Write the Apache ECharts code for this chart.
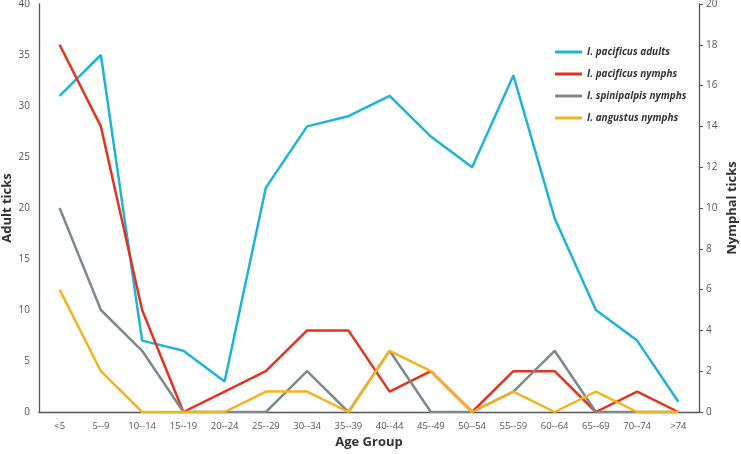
<!DOCTYPE html>
<html>
<head>
<meta charset="utf-8">
<script src="https://cdn.jsdelivr.net/npm/echarts@6/dist/echarts.min.js"></script>
<style>html,body{margin:0;padding:0;background:#fff}#c{width:741px;height:454px}</style>
</head>
<body>
<div id="c"></div>
<script>
const categories = ["<5","5--9","10--14","15--19","20--24","25--29","30--34","35--39","40--44","45--49","50--54","55--59","60--64","65--69","70--74",">74"];
const pacificusAdults = [31,35,7,6,3,22,28,29,31,27,24,33,19,10,7,1];
const pacificusNymphs = [18,14,5,0,1,2,4,4,1,2,0,2,2,0,1,0];
const spinipalpisNymphs = [10,5,3,0,0,0,2,0,3,0,0,1,3,0,0,0];
const angustusNymphs = [6,2,0,0,0,1,1,0,3,2,0,1,0,1,0,0];
const adultTicks = [0,5,10,15,20,25,30,35,40];
const nymphTicks = [0,2,4,6,8,10,12,14,16,18,20];
const seriesNames = ["I. pacificus adults","I. pacificus nymphs","I. spinipalpis nymphs","I. angustus nymphs"];

const colors = ["#1fb3d9","#e5321e","#7c8a88","#f6b21d"];
const font = "'Open Sans', sans-serif";
const chart = echarts.init(document.getElementById('c'));
function mk(name, data, idx, yIdx) {
  return {name, type:'line', data, yAxisIndex:yIdx, showSymbol:false, symbol:'none',
    lineStyle:{width:2.5, color:colors[idx]}, itemStyle:{color:colors[idx]}, animation:false};
}
chart.setOption({
  animation:false,
  textStyle:{fontFamily:font},
  grid:{left:39, right:42, top:4, bottom:42, containLabel:false, outerBoundsMode:'none'},
  legend:{
    orient:'vertical', left:550, top:41, itemGap:10, itemWidth:27, itemHeight:3, icon:'rect',
    data:seriesNames,
    textStyle:{fontFamily:font, fontStyle:'italic', fontWeight:'bold', fontSize:10, lineHeight:12, color:'#333'}
  },
  xAxis:{
    type:'category', data:categories, boundaryGap:true,
    name:'Age Group', nameLocation:'middle', nameGap:24, nameMoveOverlap:false,
    nameTextStyle:{fontFamily:font, fontWeight:'bold', fontSize:13, color:'#333'},
    axisLine:{lineStyle:{color:'#555', width:1.3}},
    axisTick:{show:false},
    axisLabel:{fontSize:9.5, color:'#555', margin:9, interval:0, fontFamily:font}
  },
  yAxis:[
    {type:'value', min:0, max:40, interval:5, position:'left',
     name:'Adult ticks', nameLocation:'middle', nameGap:25, nameRotate:90, nameMoveOverlap:false,
     nameTextStyle:{fontFamily:font, fontWeight:'bold', fontSize:13, color:'#333'},
     axisLine:{show:true, lineStyle:{color:'#555', width:1.3}},
     axisTick:{show:false}, splitLine:{show:false},
     axisLabel:{fontSize:10, color:'#555', margin:9, fontFamily:font,
       formatter:v=>adultTicks.includes(v)?String(v):''}},
    {type:'value', min:0, max:20, interval:2, position:'right',
     name:'Nymphal ticks', nameLocation:'middle', nameGap:27, nameRotate:90, nameMoveOverlap:false,
     nameTextStyle:{fontFamily:font, fontWeight:'bold', fontSize:13, color:'#333'},
     axisLine:{show:true, lineStyle:{color:'#555', width:1.3}},
     axisTick:{show:true, length:4, lineStyle:{color:'#555'}}, splitLine:{show:false},
     axisLabel:{fontSize:10, color:'#555', margin:7, fontFamily:font,
       formatter:v=>nymphTicks.includes(v)?String(v):''}}
  ],
  series:[
    mk(seriesNames[0], pacificusAdults, 0, 0),
    mk(seriesNames[1], pacificusNymphs, 1, 1),
    mk(seriesNames[2], spinipalpisNymphs, 2, 1),
    mk(seriesNames[3], angustusNymphs, 3, 1)
  ]
});
</script>
</body>
</html>
